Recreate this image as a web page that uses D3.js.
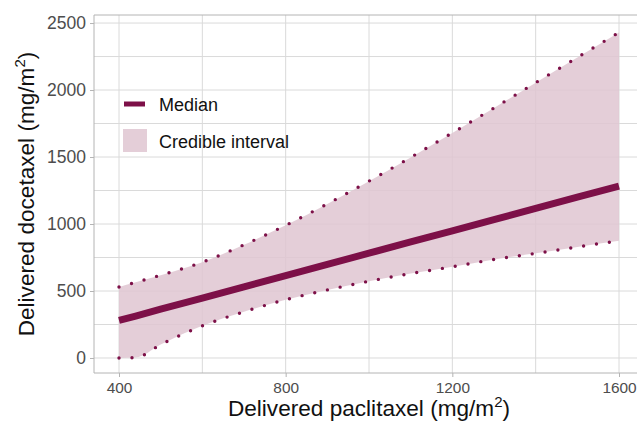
<!DOCTYPE html>
<html>
<head>
<meta charset="utf-8">
<script src="https://cdn.jsdelivr.net/npm/d3@7"></script>
<style>
  body { margin: 0; background: #fff; }
  text { font-family: "Liberation Sans", Arial, Helvetica, sans-serif; }
</style>
</head>
<body>
<script>
// values
const paclitaxel = [400, 440, 500, 600, 700, 800, 900, 1000, 1100, 1200, 1300, 1400, 1500, 1600];
const medianDoce = [280, 313, 364, 447, 531, 614, 698, 782, 866, 949, 1033, 1116, 1200, 1283];
const lowerDoce  = [0, 3, 100, 240, 345, 435, 508, 573, 630, 681, 736, 781, 829, 875];
const upperDoce  = [530, 565, 618, 715, 845, 990, 1150, 1320, 1497, 1680, 1866, 2055, 2243, 2430];

const xTicks = [400, 800, 1200, 1600];
const xGrid = [400, 600, 800, 1000, 1200, 1400, 1600];
const yTicks = [0, 500, 1000, 1500, 2000, 2500];
const yGrid = [0, 250, 500, 750, 1000, 1250, 1500, 1750, 2000, 2250, 2500];

const legendLabels = ["Median", "Credible interval"];

var width = 637, height = 425;
var dark = "#7d1048", band = "#dfc5d1", grid = "#dadada", axisCol = "#b4b4b4";

var rows = paclitaxel.map((p, i) => ({x: p, med: medianDoce[i], lo: lowerDoce[i], hi: upperDoce[i]}));

var svg = d3.select("body").append("svg")
  .attr("width", width)
  .attr("height", height);

var x = d3.scaleLinear().domain([340, 1660]).range([94, 644]);
var y = d3.scaleLinear().domain([-112, 2560]).range([373, 15]);

//grid
svg.append("g").selectAll("line")
  .data(yGrid).enter().append("line")
  .attr("x1", 94).attr("x2", width)
  .attr("y1", d => y(d)).attr("y2", d => y(d))
  .attr("stroke", grid).attr("stroke-width", 1);

svg.append("g").selectAll("line")
  .data(xGrid).enter().append("line")
  .attr("x1", d => x(d)).attr("x2", d => x(d))
  .attr("y1", 15).attr("y2", 373)
  .attr("stroke", grid).attr("stroke-width", 1);

//ribbon
var area = d3.area()
  .x(d => x(d.x))
  .y0(d => y(d.lo))
  .y1(d => y(d.hi))
  .curve(d3.curveMonotoneX);

svg.append("path")
  .datum(rows)
  .attr("d", area)
  .attr("fill", band)
  .attr("fill-opacity", 0.85);

//dotted bounds
["lo", "hi"].forEach(k => {
  var ln = d3.line().x(d => x(d.x)).y(d => y(d[k])).curve(d3.curveMonotoneX);
  svg.append("path")
    .datum(rows)
    .attr("d", ln)
    .attr("fill", "none")
    .attr("stroke", dark)
    .attr("stroke-width", 3.4)
    .attr("stroke-linecap", "round")
    .attr("stroke-dasharray", "0,13");
});

//median
svg.append("path")
  .datum(rows)
  .attr("d", d3.line().x(d => x(d.x)).y(d => y(d.med)))
  .attr("fill", "none")
  .attr("stroke", dark)
  .attr("stroke-width", 7);

//frame
svg.append("line").attr("x1", 94).attr("x2", width).attr("y1", 15).attr("y2", 15)
  .attr("stroke", axisCol);
svg.append("line").attr("x1", 94).attr("x2", 94).attr("y1", 15).attr("y2", 373)
  .attr("stroke", axisCol);
svg.append("line").attr("x1", 94).attr("x2", width).attr("y1", 373).attr("y2", 373)
  .attr("stroke", axisCol);

//axes
var yAxis = svg.append("g")
  .attr("transform", "translate(94,0)")
  .call(d3.axisLeft(y).tickValues(yTicks).tickFormat(d3.format("d")).tickSize(4).tickPadding(4));
yAxis.select(".domain").remove();
yAxis.selectAll("line").attr("stroke", axisCol);
yAxis.selectAll("text").attr("fill", "#4d4d4d").style("font-size", "17.5px")
  .style("font-family", "'Liberation Sans', Arial, sans-serif");

var xAxis = svg.append("g")
  .attr("transform", "translate(0,373)")
  .call(d3.axisBottom(x).tickValues(xTicks).tickFormat(d3.format("d")).tickSize(4).tickPadding(5));
xAxis.select(".domain").remove();
xAxis.selectAll("line").attr("stroke", axisCol);
xAxis.selectAll("text").attr("fill", "#4d4d4d").style("font-size", "15.4px")
  .style("font-family", "'Liberation Sans', Arial, sans-serif");

//titles
var xt = svg.append("text")
  .attr("x", 369).attr("y", 416)
  .attr("text-anchor", "middle")
  .style("font-size", "22.6px").attr("fill", "#111");
xt.append("tspan").text("Delivered paclitaxel (mg/m");
xt.append("tspan").attr("dy", -9).style("font-size", "15px").text("2");
xt.append("tspan").attr("dy", 9).text(")");

var yt = svg.append("text")
  .attr("transform", "translate(34,194) rotate(-90)")
  .attr("text-anchor", "middle")
  .style("font-size", "22.6px").attr("fill", "#111");
yt.append("tspan").text("Delivered docetaxel (mg/m");
yt.append("tspan").attr("dy", -9).style("font-size", "15px").text("2");
yt.append("tspan").attr("dy", 9).text(")");

//legend
svg.append("line")
  .attr("x1", 124).attr("x2", 145).attr("y1", 104).attr("y2", 104)
  .attr("stroke", dark).attr("stroke-width", 5);
svg.append("rect")
  .attr("x", 123).attr("y", 129).attr("width", 24).attr("height", 23)
  .attr("fill", band).attr("fill-opacity", 0.85);

svg.selectAll(".leg").data(legendLabels).enter().append("text")
  .attr("class", "leg")
  .attr("x", 159)
  .attr("y", (d, i) => i == 0 ? 110.5 : 147.5)
  .style("font-size", "18px")
  .attr("fill", "#111")
  .text(d => d);
</script>
</body>
</html>
